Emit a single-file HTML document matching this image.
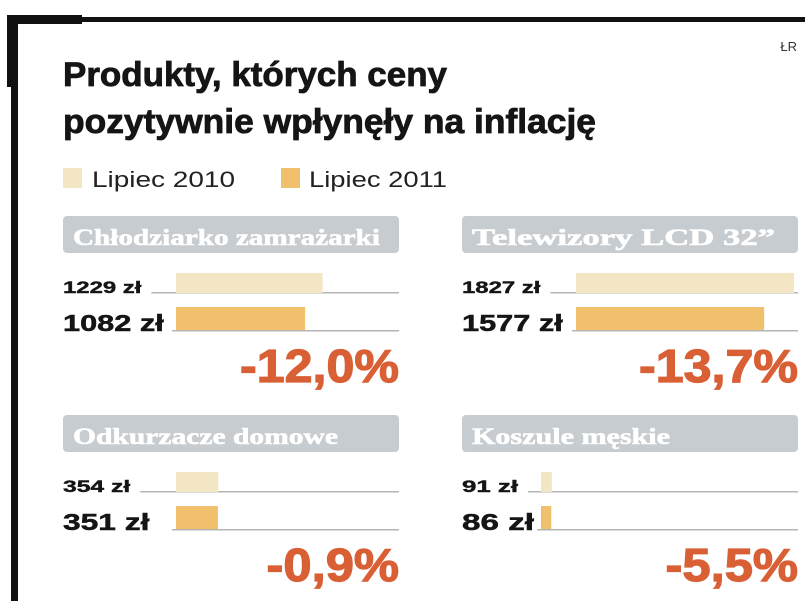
<!DOCTYPE html>
<html><head><meta charset="utf-8"><style>
html,body{margin:0;padding:0;background:#fff;}
svg{display:block;}
</style></head><body>
<svg id="chart" width="805" height="601" viewBox="0 0 805 601" xmlns="http://www.w3.org/2000/svg" font-family="'Liberation Sans', sans-serif">
  <rect x="7" y="15" width="75" height="9" fill="#111"/>
  <rect x="7" y="17" width="798" height="5" fill="#111"/>
  <rect x="11" y="15" width="7" height="586" fill="#111"/>
  <rect x="7" y="15" width="8" height="72" fill="#111"/>
  <text x="797" y="51" text-anchor="end" font-size="13" fill="#333">ŁR</text>
  <text x="63" y="86" font-size="34" font-weight="bold" fill="#151515" stroke="#151515" stroke-width="0.8" textLength="384" lengthAdjust="spacingAndGlyphs">Produkty, których ceny</text>
  <text x="63" y="133" font-size="34" font-weight="bold" fill="#151515" stroke="#151515" stroke-width="0.8" textLength="533" lengthAdjust="spacingAndGlyphs">pozytywnie wpłynęły na inflację</text>
  <rect x="63" y="168" width="19" height="20" fill="#f3e6c4"/>
  <text x="92" y="187" font-size="22" fill="#222" textLength="143" lengthAdjust="spacingAndGlyphs">Lipiec 2010</text>
  <rect x="281" y="168" width="19" height="20" fill="#f0c06c"/>
  <text x="309" y="187" font-size="22" fill="#222" textLength="138" lengthAdjust="spacingAndGlyphs">Lipiec 2011</text>
  <g id="panels"></g>
</svg>
<script>
const categories = ["Chłodziarko zamrażarki", "Telewizory LCD 32”", "Odkurzacze domowe", "Koszule męskie"];
const prices2010 = [1229, 1827, 354, 91];
const prices2011 = [1082, 1577, 351, 86];
const changeLabels = ["-12,0%", "-13,7%", "-0,9%", "-5,5%"];

const NS = "http://www.w3.org/2000/svg";
const g = document.getElementById("panels");
const scale = v => v * 0.1193;
const panelX = [63, 462, 63, 462];
const panelY = [216, 216, 415, 415];
const barStart = [176, 576, 176, 541];
const headerTextLen = [307, 303, 265, 198];
const pxPerChar1 = 11.2, pxPerChar2 = 14.4, pxPerCharPct = 26.5;
function mk(tag, attrs, parent) {
  const e = document.createElementNS(NS, tag);
  for (const k in attrs) e.setAttribute(k, attrs[k]);
  (parent || g).appendChild(e);
  return e;
}
categories.forEach((cat, i) => {
  const x0 = panelX[i], y0 = panelY[i], x1 = x0 + 336, bs = barStart[i];
  const grp = mk("g", {});
  
  
  const hdr = mk("rect", {x: x0, y: y0, width: 336, height: 37, rx: 4, fill: "#c6ccd0"}, grp);
  
  
  const ht = mk("text", {x: x0 + 10, y: y0 + 29, "font-size": 23, "font-weight": "bold", fill: "#fff", stroke: "#fff", "stroke-width": 0.6, "font-family": "'Liberation Serif', serif", textLength: headerTextLen[i], lengthAdjust: "spacingAndGlyphs"}, grp);
  ht.textContent = cat;
  
  
  const t1 = prices2010[i] + " zł", t2 = prices2011[i] + " zł";
  const w1 = t1.length * pxPerChar1, w2 = t2.length * pxPerChar2;
  const l1 = mk("text", {x: x0, y: y0 + 77, "font-size": 17, "font-weight": "bold", fill: "#151515", stroke: "#151515", "stroke-width": 0.4, textLength: w1, lengthAdjust: "spacingAndGlyphs"}, grp);
  l1.textContent = t1;
  
  
  const ln1 = mk("rect", {x: x0 + w1 + 10, y: y0 + 76, width: x1 - (x0 + w1 + 10), height: 1.5, fill: "#b5b5b5"}, grp);
  
  
  const b1 = mk("rect", {x: bs, y: y0 + 57, width: scale(prices2010[i]), height: 20, fill: "#f3e6c4"}, grp);
  
  
  const l2 = mk("text", {x: x0, y: y0 + 115, "font-size": 23, "font-weight": "bold", fill: "#151515", stroke: "#151515", "stroke-width": 0.5, textLength: w2, lengthAdjust: "spacingAndGlyphs"}, grp);
  l2.textContent = t2;
  
  
  const ln2 = mk("rect", {x: bs - 4, y: y0 + 114, width: x1 - bs + 4, height: 1.5, fill: "#b5b5b5"}, grp);
  
  
  const b2 = mk("rect", {x: bs, y: y0 + 91, width: scale(prices2011[i]), height: 23, fill: "#f0c06c"}, grp);
  
  
  const pw = changeLabels[i].length * pxPerCharPct;
  const pc = mk("text", {x: x1 - pw, y: y0 + 166, "font-size": 46, "font-weight": "bold", fill: "#d95f35", stroke: "#d95f35", "stroke-width": 1.2, textLength: pw, lengthAdjust: "spacingAndGlyphs"}, grp);
  pc.textContent = changeLabels[i];
  
  
});
</script>
</body></html>
